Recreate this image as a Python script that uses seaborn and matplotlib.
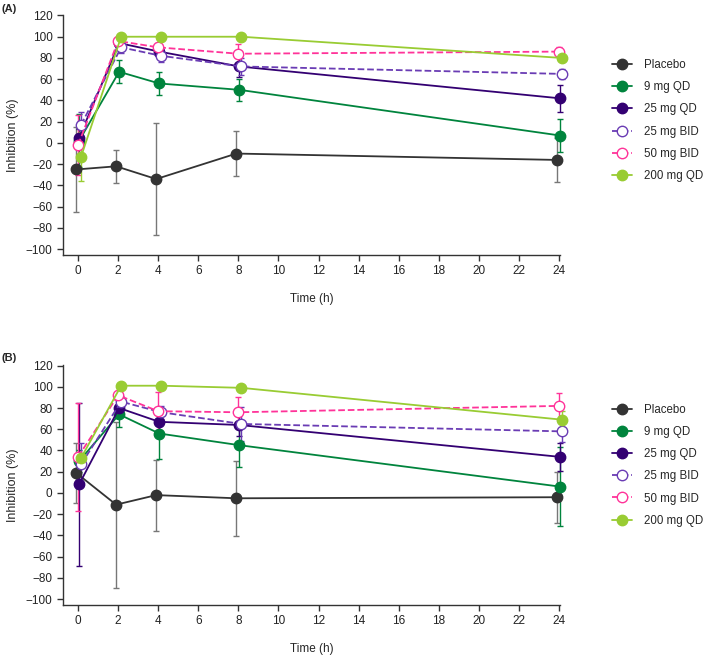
import matplotlib
matplotlib.use("Agg")
import matplotlib.pyplot as plt
import seaborn as sns
import pandas as pd

# Sampling times (h)
times = [0, 2, 4, 8, 24]
groups = ["Placebo", "9 mg QD", "25 mg QD", "25 mg BID", "50 mg BID", "200 mg QD"]

# Panel A: mean inhibition (%) and SD
placebo_a = [-25, -22, -34, -10, -16]
qd9_a = [2, 67, 56, 50, 7]
qd25_a = [5, 94, 86, 72, 42]
bid25_a = [17, 90, 82, 72, 65]
bid50_a = [-2, 96, 90, 84, 86]
qd200_a = [-13, 100, 100, 100, 80]

placebo_a_sd = [40, 15.5, 53, 21.5, 21]
qd9_a_sd = [25, 11, 10.5, 10.5, 16]
qd25_a_sd = [8, 4, 5, 10, 13]
bid25_a_sd = [12, 5, 6, 8, 5]
bid50_a_sd = [28, 4, 4, 9, 4]
qd200_a_sd = [23, 2, 2, 2, 3]

# Panel B: mean inhibition (%) and SD
placebo_b = [19, -11, -2, -5, -4]
qd9_b = [30, 74, 56, 45, 6]
qd25_b = [8, 80, 67, 64, 34]
bid25_b = [27, 86, 76, 65, 58]
bid50_b = [34, 92, 77, 76, 82]
qd200_b = [33, 101, 101, 99, 69]

placebo_b_sd = [28, 78, 33.5, 35.5, 24]
qd9_b_sd = [10, 12, 24, 21, 37]
qd25_b_sd = [77, 6, 8, 10, 13]
bid25_b_sd = [20, 5, 6, 16, 10]
bid50_b_sd = [51, 4, 18, 14, 12]
qd200_b_sd = [5, 2, 2, 2, 8]

# style per group: colour, filled marker, dashed line, small x-dodge
styles = {
    "Placebo": ("#333333", True, False, -0.1),
    "9 mg QD": ("#00843d", True, False, 0.05),
    "25 mg QD": ("#330072", True, False, 0.05),
    "25 mg BID": ("#6a3cb4", False, True, 0.15),
    "50 mg BID": ("#ff3399", False, True, 0.0),
    "200 mg QD": ("#99cc33", True, False, 0.15),
}
err_colors = {"Placebo": "#777777"}

panels = [
    ("(A)", [placebo_a, qd9_a, qd25_a, bid25_a, bid50_a, qd200_a],
     [placebo_a_sd, qd9_a_sd, qd25_a_sd, bid25_a_sd, bid50_a_sd, qd200_a_sd]),
    ("(B)", [placebo_b, qd9_b, qd25_b, bid25_b, bid50_b, qd200_b],
     [placebo_b_sd, qd9_b_sd, qd25_b_sd, bid25_b_sd, bid50_b_sd, qd200_b_sd]),
]

sns.set_style("ticks")
plt.rcParams["font.family"] = ["Liberation Sans", "DejaVu Sans"]

fig = plt.figure(figsize=(7.09, 6.56), dpi=100)
axes_pos = [[0.0889, 0.6113, 0.701, 0.3659], [0.0889, 0.0777, 0.701, 0.3659]]
tag_y = [1 - 9 / 656, 1 - 358 / 656]
legend_y = [0.835, 0.857]

for (tag, means, sds), pos, ty, ly in zip(panels, axes_pos, tag_y, legend_y):
    ax = fig.add_axes(pos)
    for name, m, s in zip(groups, means, sds):
        color, filled, dashed, dx = styles[name]
        df = pd.DataFrame({"time": [t + dx for t in times], "inhib": m})
        ax.errorbar(df["time"], df["inhib"], yerr=s, fmt="none",
                    ecolor=err_colors.get(name, color), elinewidth=1.0,
                    capsize=2.5, capthick=1.0, zorder=2, clip_on=False)
        sns.lineplot(data=df, x="time", y="inhib", ax=ax, color=color,
                     linestyle="--" if dashed else "-", linewidth=1.3,
                     marker="o", markersize=7.5,
                     markerfacecolor=color if filled else "white",
                     markeredgecolor=color, markeredgewidth=1.0,
                     label=name, zorder=3, clip_on=False)
    ax.set_xlim(-0.75, 24.05)
    ax.set_ylim(-105.5, 120.5)
    ax.set_xticks(range(0, 25, 2))
    ax.set_yticks(range(-100, 121, 20))
    ax.set_yticklabels([str(v).replace("-", "\u2212") for v in range(-100, 121, 20)])
    ax.tick_params(labelsize=8.5, length=4, width=1, color="#333333", labelcolor="#222222")
    ax.set_xlabel("Time (h)", fontsize=8.5, labelpad=11)
    ax.set_ylabel("Inhibition (%)", fontsize=9, labelpad=5)
    sns.despine(ax=ax)
    for sp in ["left", "bottom"]:
        ax.spines[sp].set_linewidth(1.0)
        ax.spines[sp].set_color("#333333")
    ax.legend(loc="upper left", bbox_to_anchor=(1.095, ly), frameon=False,
              fontsize=8.3, handlelength=1.75, labelspacing=0.88, handletextpad=1.05,
              borderaxespad=0)
    fig.text(0.002, ty, tag, fontsize=8, fontweight="bold", va="center")

fig.savefig("out.png", dpi=100)
